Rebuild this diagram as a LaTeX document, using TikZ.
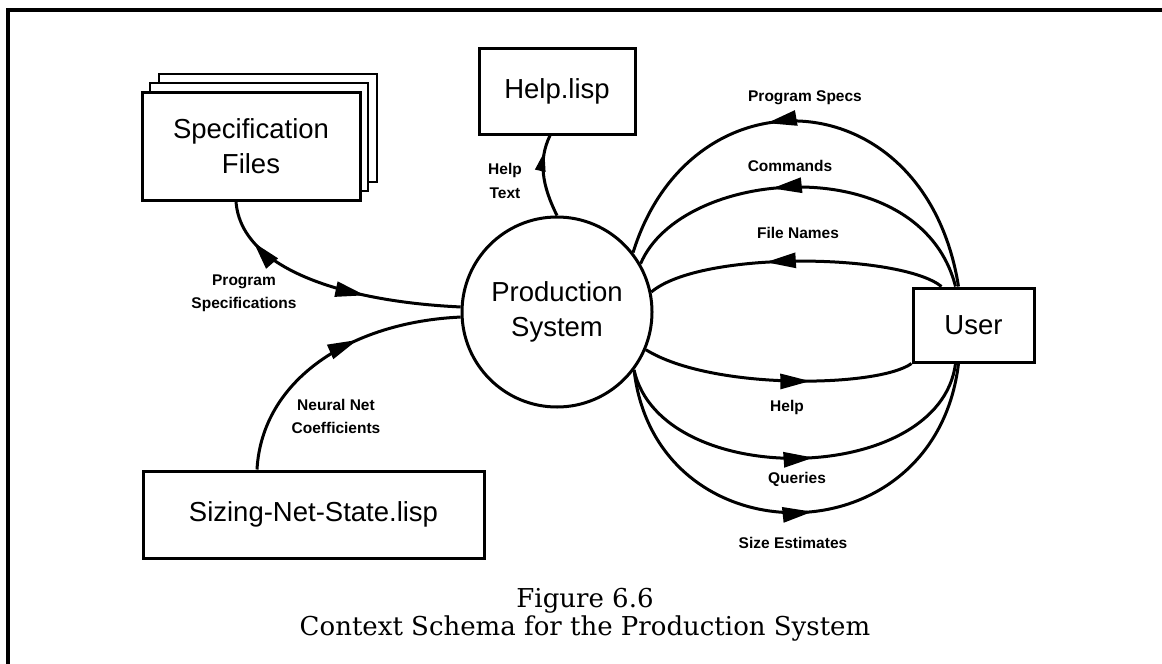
\documentclass[tikz,border=0pt]{standalone}
\usepackage{fontspec}
\setmainfont{Liberation Sans}
\newfontfamily\capfont{DejaVu Serif}
\usetikzlibrary{arrows.meta,decorations.markings}
\tikzset{
  box/.style={draw, line width=3pt, fill=white, inner sep=0pt, align=center,
    font=\fontsize{27.5}{35}\selectfont},
  backbox/.style={draw, line width=2.4pt, fill=white, inner sep=0pt,
    minimum width=218pt, minimum height=108pt},
  flow/.style={line width=3pt},
  lbl/.style={font=\bfseries\fontsize{15.5}{23.5}\selectfont, align=center, inner sep=0pt},
  fwd/.style={postaction={decorate, decoration={markings,
    mark=at position #1 with {\arrow{Triangle[length=30pt,width=15pt]}}}}},
  bwd/.style={postaction={decorate, decoration={markings,
    mark=at position #1 with {\arrowreversed{Triangle[length=28pt,width=15pt]}}}}},
  fwdn/.style={postaction={decorate, decoration={markings,
    mark=at position #1 with {\arrow{Triangle[length=20pt,width=10pt]}}}}},
}
\begin{document}
\begin{tikzpicture}[x=1pt,y=-1pt]
\useasboundingbox (0,0) rectangle (1162,664);
% frame
\coordinate (ftl) at (8,10);
\coordinate (ftr) at (1162,10);
\coordinate (fbl) at (8,664);
\draw[line width=3.5pt] (ftr) -- (ftl) -- (fbl);
% nodes
\node[backbox] (spec3) at (268,128) {};
\node[backbox] (spec2) at (259,137) {};
\node[box, minimum width=218pt, minimum height=108pt] (spec) at (251,146) {Specification\\Files};
\node[box, minimum width=156pt, minimum height=86pt] (help) at (557,91) {Help.lisp};
\node[box, circle, minimum size=190pt] (ps) at (557,312) {Production\\System};
\node[box, minimum width=121pt, minimum height=74pt] (user) at (973.5,325) {User};
\node[box, minimum width=341pt, minimum height=87pt] (sizing) at (313.5,514.5) {Sizing-Net-State.lisp};
% labels
\node[lbl] (lps) at (805,98) {Program Specs};
\node[lbl] (lcmd) at (790,166) {Commands};
\node[lbl] (lfn) at (798,233) {File Names};
\node[lbl] (lhelp) at (787,407) {Help};
\node[lbl] (lq) at (797,479) {Queries};
\node[lbl] (lse) at (793,543) {Size Estimates};
\node[lbl] (lpspec) at (244,293.5) {Program\\Specifications};
\node[lbl] (lnn) at (336,416.5) {Neural Net\\Coefficients};
\node[lbl] (lht) at (505,181) {Help\\Text};
% caption
\node[font=\capfont\fontsize{26}{28}\selectfont, align=center, inner sep=0pt] (cap) at (585,615)
  {Figure 6.6\\Context Schema for the Production System};
% connectors
\draw[flow, bwd=0.17, fwd=0.64] ([xshift=-15pt]spec.south) .. controls +(5,70) and +(-110,-5) .. (ps.177);
\draw[flow, fwd=0.62] ([xshift=-56.5pt]sizing.north) .. controls +(5,-90) and +(-110,5) .. (ps.183);
\draw[flow, fwdn=0.8] (ps.north) .. controls +(-15,-30) and +(-12,25) .. ([xshift=-7pt]help.south);
\draw[flow, fwd=0.59] ([xshift=-15pt]user.north) .. controls +(-33,-208) and +(58,-187) .. (ps.38);
\draw[flow, fwd=0.59] ([xshift=-18pt]user.north) .. controls +(-35,-138) and +(41,-97) .. (ps.30);
\draw[flow, fwd=0.6] ([xshift=-32pt]user.north) .. controls +(-41,-33) and +(50,-42) .. (ps.12);
\draw[flow, fwd=0.62] (ps.-23) .. controls +(66,41) and +(-33,24) .. (user.south west);
\draw[flow, fwd=0.54] (ps.-37) .. controls +(27,121) and +(-15.5,123) .. ([xshift=-18pt]user.south);
\draw[flow, fwd=0.53] (ps.-37) .. controls +(22,191) and +(-23.5,198) .. ([xshift=-15pt]user.south);
\end{tikzpicture}
\end{document}
